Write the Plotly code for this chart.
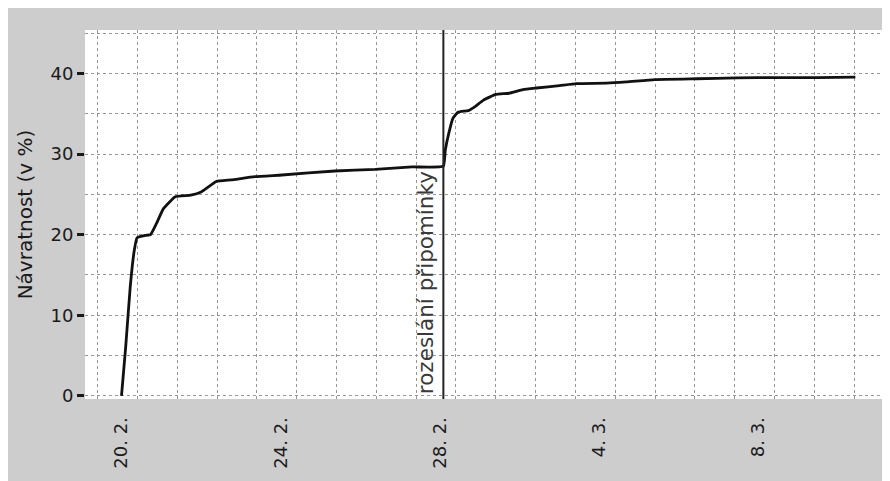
import plotly.graph_objects as go

# --- data ---
dates = [
    "2019-02-20 00:00", "2019-02-20 02:30", "2019-02-20 05:15", "2019-02-20 07:40",
    "2019-02-20 09:20", "2019-02-20 14:24", "2019-02-20 17:30", "2019-02-20 20:53",
    "2019-02-21 01:12", "2019-02-21 08:24", "2019-02-21 17:45", "2019-02-22 00:00",
    "2019-02-22 09:07", "2019-02-22 18:14", "2019-02-23 08:24", "2019-02-24 00:43",
    "2019-02-25 08:38", "2019-02-26 08:53", "2019-02-27 07:12", "2019-02-28 02:00",
    "2019-02-28 03:10", "2019-02-28 05:17", "2019-02-28 07:41", "2019-02-28 10:48",
    "2019-02-28 17:02", "2019-02-28 21:07", "2019-03-01 02:10", "2019-03-01 09:36",
    "2019-03-01 17:31", "2019-03-02 01:55", "2019-03-02 10:05", "2019-03-03 00:00",
    "2019-03-03 10:05", "2019-03-04 04:19", "2019-03-04 16:19", "2019-03-05 09:22",
    "2019-03-06 10:34", "2019-03-07 10:48", "2019-03-08 11:02", "2019-03-09 11:17",
    "2019-03-10 10:19",
]
return_pct = [
    0.0, 6.0, 13.5, 18.0,
    19.6, 19.9, 20.0, 21.3,
    23.2, 24.7, 24.9, 25.3,
    26.6, 26.8, 27.2, 27.4,
    27.9, 28.1, 28.4, 28.5,
    30.5, 32.6, 34.4, 35.2,
    35.4, 35.9, 36.7, 37.4,
    37.55, 38.0, 38.2, 38.5,
    38.75, 38.8, 38.95, 39.25,
    39.35, 39.45, 39.5, 39.5,
    39.55,
]
reminder_date = "2019-02-28 02:00"
reminder_label = "rozeslání připomínky"
y_title = "Návratnost (v %)"
x_tick_start = "2019-02-20"
x_tick_days = 4
x_tick_format = "%-d. %-m."
x_range = ["2019-02-19 02:00", "2019-03-11 07:12"]
y_range = [-0.4, 45.4]
y_tick_step = 10
grid_step_y = 5
grid_start_x = "2019-02-19 09:36"

DAY_MS = 86400000
GRID = "#969696"
INK = "#1a1a1a"
BACK = "#cdcdcd"

fig = go.Figure()
fig.add_trace(go.Scatter(
    x=dates, y=return_pct, mode="lines",
    line=dict(color="#111111", width=2.8, shape="spline", smoothing=0.35),
    hoverinfo="skip",
))
# white plotting panel, placed through the axes' own ranges
fig.add_shape(type="rect", xref="x", yref="y",
              x0=x_range[0], x1=x_range[1], y0=y_range[0], y1=y_range[1],
              fillcolor="white", line_width=0, layer="below")
fig.add_vline(x=reminder_date, line_color="#222222", line_width=2)
fig.add_annotation(
    x=reminder_date, y=0, xref="x", yref="y",
    text=reminder_label, textangle=-90, showarrow=False,
    xanchor="right", yanchor="bottom", xshift=-4,
    font=dict(family="DejaVu Sans", size=21.5, color="#3a3a3a"),
)

fig.update_layout(
    width=882, height=473,
    margin=dict(l=77, r=0, t=22, b=82),
    paper_bgcolor=BACK, plot_bgcolor=BACK,
    showlegend=False,
    font=dict(family="DejaVu Sans", size=18, color=INK),
)
fig.update_xaxes(
    type="date", range=x_range,
    tick0=x_tick_start, dtick=x_tick_days * DAY_MS, tickformat=x_tick_format,
    tickangle=-90, showgrid=False, zeroline=False, showline=False,
    ticks="outside", ticklen=10, tickcolor="rgba(0,0,0,0)",
    minor=dict(tick0=grid_start_x, dtick=DAY_MS, showgrid=True,
               gridcolor=GRID, griddash="dot", gridwidth=1),
)
fig.update_yaxes(
    range=y_range, tick0=0, dtick=y_tick_step,
    showgrid=True, gridcolor=GRID, griddash="dot", gridwidth=1,
    zeroline=False, showline=False,
    ticks="outside", ticklen=7, tickwidth=2.5, tickcolor=INK,
    minor=dict(dtick=grid_step_y, showgrid=True, gridcolor=GRID,
               griddash="dot", gridwidth=1),
    title=dict(text=y_title, standoff=12, font=dict(size=20)),
)

fig.write_html("out.html")
